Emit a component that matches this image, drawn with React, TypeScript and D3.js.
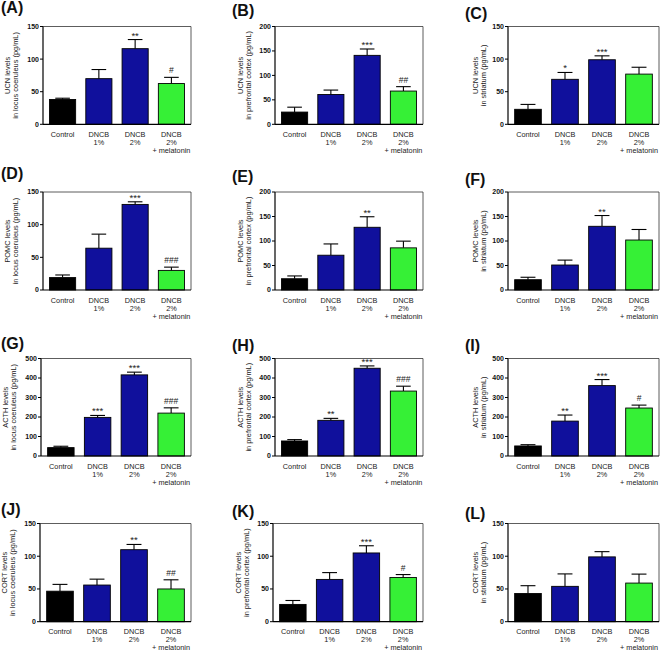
import React from "react";
import * as d3 from "d3";

const categories = ["Control", "DNCB 1%", "DNCB 2%", "DNCB 2% + melatonin"];
const categoryLines = [["Control"], ["DNCB", "1%"], ["DNCB", "2%"], ["DNCB", "2%", "+ melatonin"]];
const barColors = ["#000000", "#10109c", "#10109c", "#36f036"];

// UCN
const ucnLC = [38, 70, 116, 62.5];
const ucnLCErr = [2, 14, 14, 9.5];
const ucnLCSig = ["", "", "**", "#"];
const ucnPFC = [25, 61, 141, 68];
const ucnPFCErr = [10, 9, 13, 9];
const ucnPFCSig = ["", "", "***", "##"];
const ucnST = [23, 69, 99, 77];
const ucnSTErr = [7.5, 10.5, 6, 10.5];
const ucnSTSig = ["", "*", "***", ""];
// POMC
const pomcLC = [19, 64, 131, 30];
const pomcLCErr = [4, 21.5, 4, 5];
const pomcLCSig = ["", "", "***", "###"];
const pomcPFC = [23, 71, 128, 86];
const pomcPFCErr = [5.7, 23, 21.5, 13.7];
const pomcPFCSig = ["", "", "**", ""];
const pomcST = [21, 51, 130, 102];
const pomcSTErr = [5, 10, 22, 21.5];
const pomcSTSig = ["", "", "**", ""];
// ACTH
const acthLC = [43, 198, 416, 220];
const acthLCErr = [7, 10, 14, 27];
const acthLCSig = ["", "***", "***", "###"];
const acthPFC = [77, 183, 450, 333];
const acthPFCErr = [7, 10, 12, 25];
const acthPFCSig = ["", "**", "***", "###"];
const acthST = [51.5, 179, 361, 246];
const acthSTErr = [6.5, 31, 31, 15];
const acthSTSig = ["", "**", "***", "#"];
// CORT
const cortLC = [46.6, 56, 110, 50];
const cortLCErr = [10.4, 9, 8, 14];
const cortLCSig = ["", "", "**", "##"];
const cortPFC = [26.4, 64.6, 105, 67.6];
const cortPFCErr = [6, 10.4, 11, 4.4];
const cortPFCSig = ["", "", "***", "#"];
const cortST = [43, 54, 99, 59];
const cortSTErr = [12, 19, 8, 13.7];
const cortSTSig = ["", "", "", ""];

const regions = ["in locus coeruleus (pg/mL)", "in prefrontal cortex (pg/mL)", "in striatum (pg/mL)"];
const hormones = ["UCN", "POMC", "ACTH", "CORT"];
const yMaxes = [150, 200, 150, 150, 200, 200, 500, 500, 500, 150, 150, 150];
const yTicks150 = [0, 50, 100, 150];
const yTicks200 = [0, 50, 100, 150, 200];
const yTicks500 = [0, 100, 200, 300, 400, 500];
const panelLetters = ["A", "B", "C", "D", "E", "F", "G", "H", "I", "J", "K", "L"];

const panelData = [
  [ucnLC, ucnLCErr, ucnLCSig], [ucnPFC, ucnPFCErr, ucnPFCSig], [ucnST, ucnSTErr, ucnSTSig],
  [pomcLC, pomcLCErr, pomcLCSig], [pomcPFC, pomcPFCErr, pomcPFCSig], [pomcST, pomcSTErr, pomcSTSig],
  [acthLC, acthLCErr, acthLCSig], [acthPFC, acthPFCErr, acthPFCSig], [acthST, acthSTErr, acthSTSig],
  [cortLC, cortLCErr, cortLCSig], [cortPFC, cortPFCErr, cortPFCSig], [cortST, cortSTErr, cortSTSig],
];

// layout
const colX0 = [[43, 275, 508], [43, 275, 508], [41, 275, 508], [40, 273, 508]];
const colX1 = [191, 423, 659];
const rowTop = [26.5, 192, 358.5, 523.5];
const rowBottom = [124.3, 290, 456, 621.7];
const titleX = [1, 232, 465];
const titleY = [[13, 16, 19], [179, 182, 185], [349, 351, 351], [515, 517, 519]];
const ylabOff = [[-33, -25.5], [-32.5, -24], [-30, -22]];

const FONT = "'Liberation Sans', Arial, sans-serif";

function Panel({ idx }: { idx: number }) {
  const row = Math.floor(idx / 3);
  const col = idx % 3;
  const [means, errs, sig] = panelData[idx] as [number[], number[], string[]];
  const x0 = colX0[row][col];
  const x1 = colX1[col];
  const top = rowTop[row];
  const bottom = rowBottom[row];
  const yMax = yMaxes[idx];
  const ticks = yMax === 150 ? yTicks150 : yMax === 200 ? yTicks200 : yTicks500;
  const x = d3.scaleBand<string>().domain(categories).range([x0, x1]).paddingInner(0.28).paddingOuter(0.18);
  const y = d3.scaleLinear().domain([0, yMax]).range([bottom, top]);
  const bw = x.bandwidth();
  const cy = (top + bottom) / 2;
  return (
    <g>
      <text x={titleX[col]} y={titleY[row][col]} fontFamily={FONT} fontWeight="bold" fontSize={16} fill="#111">
        ({panelLetters[idx]})
      </text>
      {/* bars */}
      {means.map((m, i) => {
        const bx = x(categories[i])!;
        const cx = bx + bw / 2;
        const yt = y(m);
        const ye = y(m + errs[i]);
        const cap = bw * 0.28;
        return (
          <g key={i}>
            <line x1={cx} x2={cx} y1={yt} y2={ye} stroke="#000" strokeWidth={1.1} />
            <line x1={cx - cap} x2={cx + cap} y1={ye} y2={ye} stroke="#000" strokeWidth={1.1} />
            <rect x={bx} y={yt} width={bw} height={bottom - yt} fill={barColors[i]} stroke="#000" strokeWidth={0.9} />
            {sig[i] ? (
              <text
                x={cx}
                y={sig[i].startsWith("#") ? ye - 4 : ye - 1}
                textAnchor="middle"
                fontFamily={FONT}
                fontSize={sig[i].startsWith("#") ? 8.5 : 9.5}
                fill="#222"
              >
                {sig[i]}
              </text>
            ) : null}
          </g>
        );
      })}
      {/* frame */}
      <line x1={x0} x2={x1} y1={top} y2={top} stroke="#333" strokeWidth={0.8} />
      <line x1={x1} x2={x1} y1={top} y2={bottom} stroke="#333" strokeWidth={0.8} />
      <line x1={x0} x2={x0} y1={top} y2={bottom} stroke="#000" strokeWidth={1.2} />
      <line x1={x0} x2={x1} y1={bottom} y2={bottom} stroke="#000" strokeWidth={1.2} />
      {/* y ticks */}
      {ticks.map((t) => (
        <g key={t}>
          <line x1={x0 - 3} x2={x0} y1={y(t)} y2={y(t)} stroke="#000" strokeWidth={1} />
          <text x={x0 - 4} y={y(t)} dy="0.35em" textAnchor="end" fontFamily={FONT} fontWeight="bold" fontSize={7} fill="#111">
            {t}
          </text>
        </g>
      ))}
      {/* x labels */}
      {categories.map((c, i) => {
        const cx = x(c)! + bw / 2;
        return (
          <g key={c}>
            {categoryLines[i].map((l, j) => (
              <text key={j} x={cx} y={bottom + 12.5 + j * 8} textAnchor="middle" fontFamily={FONT} fontSize={7.3} fill="#222">
                {l}
              </text>
            ))}
          </g>
        );
      })}
      {/* y label */}
      <text
        transform={`translate(${x0 + ylabOff[col][0]},${cy}) rotate(-90)`}
        textAnchor="middle"
        fontFamily={FONT}
        fontSize={7.4}
        fill="#222"
      >
        {hormones[row]} levels
      </text>
      <text
        transform={`translate(${x0 + ylabOff[col][1]},${cy}) rotate(-90)`}
        textAnchor="middle"
        fontFamily={FONT}
        fontSize={7.4}
        fill="#222"
      >
        {regions[col]}
      </text>
    </g>
  );
}

export default function App() {
  return (
    <svg
      width={660}
      height={653}
      viewBox="0 0 660 653"
      style={{ position: "absolute", left: 0, top: 0, background: "#fff" }}
    >
      <rect x={0} y={0} width={660} height={653} fill="#fff" />
      {panelLetters.map((_, i) => (
        <Panel key={i} idx={i} />
      ))}
    </svg>
  );
}
